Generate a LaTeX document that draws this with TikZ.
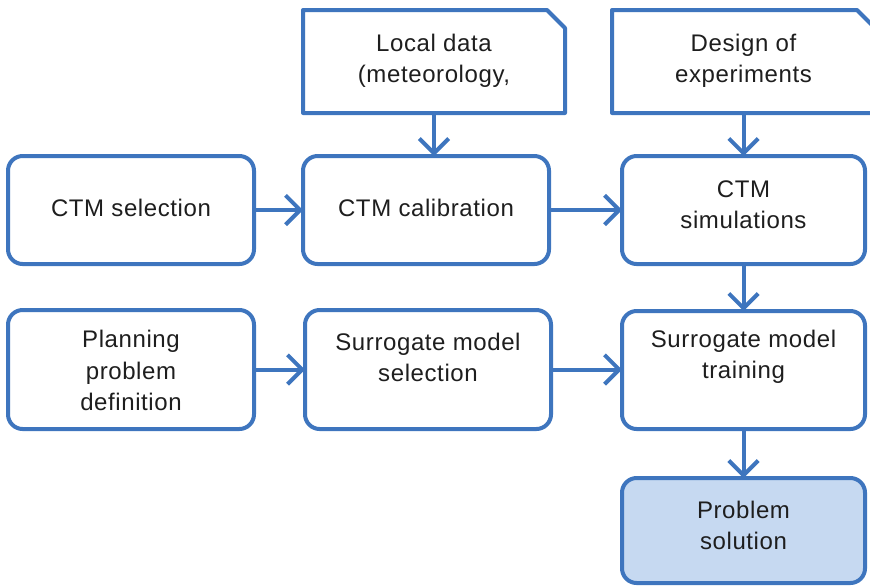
\documentclass[tikz,border=0pt]{standalone}
\usepackage{fontspec}
\setmainfont[LetterSpace=2.5]{Liberation Sans}
\usetikzlibrary{arrows.meta,calc}
\definecolor{flowblue}{RGB}{62,117,190}
\definecolor{flowfill}{RGB}{198,217,241}
\definecolor{flowtext}{RGB}{30,30,30}
\tikzset{
  box/.style={draw=flowblue, line width=3pt, rounded corners=11pt, fill=white,
    inner sep=0pt, outer sep=0pt, minimum width=#1*0.75pt},
  box/.default=246,
  docbox/.style={inner sep=0pt, outer sep=0pt},
  docline/.style={draw=flowblue, line width=3pt, fill=white, line join=round},
  label/.style={inner sep=0pt, align=center, text=flowtext,
    font=\fontsize{18}{23.5}\selectfont},
  flow/.style={draw=flowblue, line width=3pt,
    -{Straight Barb[length=11pt,width=22pt,line width=3pt]}}
}
\begin{document}
\begin{tikzpicture}[x=0.75pt,y=-0.75pt]
  \useasboundingbox (0,0) rectangle (870,587);

  % document-shaped inputs with a clipped top-right corner
  \node[docbox, minimum width=262*0.75pt, minimum height=103*0.75pt] (local) at (434,61.5) {};
  \draw[docline] (local.south west) -- (local.north west) -- ($(local.north east)+(-18,0)$)
    -- ($(local.north east)+(0,18)$) -- (local.south east) -- cycle;
  \node[label] (t-local) at ($(local.center)+(0,-1)$) {Local data\\(meteorology,};

  \node[docbox, minimum width=263*0.75pt, minimum height=103*0.75pt] (design) at (743.5,61.5) {};
  \draw[docline] (design.south west) -- (design.north west) -- ($(design.north east)+(-18,0)$)
    -- ($(design.north east)+(0,18)$) -- (design.south east) -- cycle;
  \node[label] (t-design) at ($(design.center)+(0,-1)$) {Design of\\experiments};

  % process boxes
  \node[box=246, minimum height=108*0.75pt] (sel)   at (131,210) {};
  \node[box=246, minimum height=108*0.75pt] (cal)   at (426,210) {};
  \node[box=243, minimum height=108*0.75pt] (sim)   at (743.5,210) {};
  \node[box=246, minimum height=119*0.75pt] (plan)  at (131,369.5) {};
  \node[box=246, minimum height=119*0.75pt] (ssel)  at (428,369.5) {};
  \node[box=243, minimum height=118*0.75pt] (train) at (743.5,370) {};
  \node[box=243, minimum height=105*0.75pt, fill=flowfill] (sol) at (743.5,530.5) {};

  \node[label] (t-sel)   at ($(sel.center)+(0,-2)$)    {CTM selection};
  \node[label] (t-cal)   at ($(cal.center)+(0,-2)$)    {CTM calibration};
  \node[label] (t-sim)   at ($(sim.center)+(0,-5)$)    {CTM\\simulations};
  \node[label] (t-plan)  at ($(plan.center)+(0,1)$)    {Planning\\problem\\definition};
  \node[label] (t-ssel)  at ($(ssel.center)+(0,-12)$)  {Surrogate model\\selection};
  \node[label] (t-train) at ($(train.center)+(0,-13)$) {Surrogate model\\training};
  \node[label] (t-sol)   at ($(sol.center)+(0,-5)$)    {Problem\\solution};

  % connectors
  \draw[flow] (local.south) -- (local.south |- cal.north);
  \draw[flow] (design.south) -- (design.south |- sim.north);
  \draw[flow] (sel.east) -- (cal.west);
  \draw[flow] (cal.east) -- (sim.west);
  \draw[flow] (sim.south) -- (train.north);
  \draw[flow] (plan.east) -- (ssel.west);
  \draw[flow] (ssel.east) -- (ssel.east -| train.west);
  \draw[flow] (train.south) -- (sol.north);
\end{tikzpicture}
\end{document}
